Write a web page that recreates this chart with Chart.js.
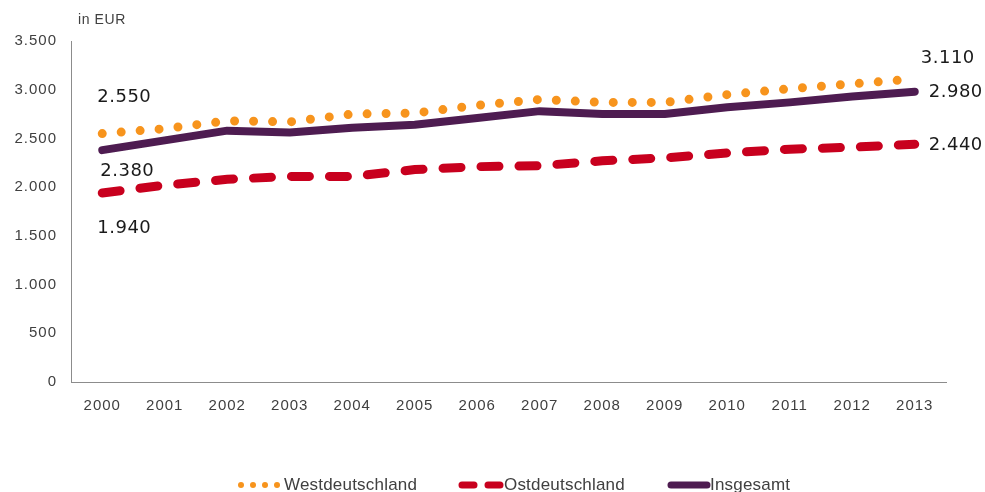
<!DOCTYPE html>
<html>
<head>
<meta charset="utf-8">
<script src="https://cdn.jsdelivr.net/npm/chart.js@4/dist/chart.umd.min.js"></script>
<style>
html,body{margin:0;padding:0;background:#fff;}
#wrap{width:985px;height:492px;}
</style>
</head>
<body>
<div id="wrap"><canvas id="c" width="985" height="492"></canvas></div>
<script>
const years = ['2000','2001','2002','2003','2004','2005','2006','2007','2008','2009','2010','2011','2012','2013'];
const westdeutschland = [2550,2600,2680,2670,2750,2760,2840,2900,2870,2870,2950,3010,3060,3110];
const ostdeutschland  = [1940,2020,2080,2110,2110,2180,2210,2220,2270,2300,2350,2390,2410,2440];
const insgesamt       = [2380,2480,2580,2560,2610,2640,2710,2780,2750,2750,2820,2870,2930,2980];
const yTickValues = [0,500,1000,1500,2000,2500,3000,3500];
const yTickLabels = ['0','500','1.000','1.500','2.000','2.500','3.000','3.500'];
const seriesNames = ['Westdeutschland','Ostdeutschland','Insgesamt'];
const unitLabel = 'in EUR';

function fmt(v){ return String(v).replace(/\B(?=(\d{3})+(?!\d))/g,'.'); }

// label offsets (style only): [first, last] -> {dx, dy}
const labelOffsets = [
  [{dx:-5,dy:-36},{dx:6,dy:-21}],
  [{dx:-5,dy:35},{dx:14,dy:1}],
  [{dx:-2,dy:21},{dx:14,dy:1}]
];

const endLabels = {
  id:'endLabels',
  afterDatasetsDraw(chart){
    const ctx = chart.ctx;
    const xs = chart.scales.x, ys = chart.scales.y;
    ctx.save();
    ctx.font = '18px "DejaVu Sans"';
    ctx.letterSpacing = '0.5px';
    ctx.fillStyle = '#1a1a1a';
    ctx.textAlign = 'left';
    ctx.textBaseline = 'middle';
    chart.data.datasets.forEach((ds,i)=>{
      const idxs = [0, ds.data.length-1];
      idxs.forEach((idx,k)=>{
        const px = xs.getPixelForValue(idx);
        const py = ys.getPixelForValue(ds.data[idx]);
        const o = labelOffsets[i][k];
        ctx.fillText(fmt(ds.data[idx]), px+o.dx, py+o.dy);
      });
    });
    ctx.restore();
  }
};

const extras = {
  id:'extras',
  beforeDraw(chart){
    chart.ctx.letterSpacing = '1px';
  },
  afterDraw(chart){
    const ctx = chart.ctx;
    ctx.save();
    ctx.letterSpacing = '0.6px';
    ctx.font = '14px "Liberation Sans"';
    ctx.fillStyle = '#404040';
    ctx.textBaseline = 'middle';
    ctx.textAlign = 'left';
    ctx.fillText(unitLabel, 78, 20);
    // legend
    const ly = 485;
    ctx.font = '17px "Liberation Sans"';
    ctx.letterSpacing = '0.2px';
    const ds = chart.data.datasets;
    // West dots
    ctx.fillStyle = ds[0].borderColor;
    [241,253,265,277].forEach(x=>{ctx.beginPath();ctx.arc(x,ly,3,0,Math.PI*2);ctx.fill();});
    ctx.fillStyle = '#404040';
    ctx.fillText(ds[0].label, 284, ly);
    // Ost dashes
    ctx.strokeStyle = ds[1].borderColor;
    ctx.lineWidth = 7; ctx.lineCap='round';
    ctx.beginPath(); ctx.moveTo(462,ly); ctx.lineTo(474,ly); ctx.moveTo(488,ly); ctx.lineTo(500,ly); ctx.stroke();
    ctx.fillText(ds[1].label, 504, ly);
    // Insgesamt line
    ctx.strokeStyle = ds[2].borderColor;
    ctx.beginPath(); ctx.moveTo(671,ly); ctx.lineTo(707,ly); ctx.stroke();
    ctx.fillStyle = '#404040';
    ctx.fillText(ds[2].label, 710, ly);
    ctx.restore();
  }
};

new Chart(document.getElementById('c'), {
  type:'line',
  data:{
    labels: years,
    datasets:[
      {label:seriesNames[0], data:westdeutschland, borderColor:'#F7941D', borderWidth:9, borderDash:[0,19], borderCapStyle:'round', pointRadius:0, tension:0, fill:false},
      {label:seriesNames[1], data:ostdeutschland, borderColor:'#C8001E', borderWidth:9, borderDash:[18,20], borderCapStyle:'round', pointRadius:0, tension:0, fill:false},
      {label:seriesNames[2], data:insgesamt, borderColor:'#4E1C51', borderWidth:8, borderCapStyle:'round', borderJoinStyle:'round', pointRadius:0, tension:0, fill:false}
    ]
  },
  options:{
    responsive:false,
    animation:false,
    devicePixelRatio:1,
    layout:{padding:{top:41,right:39,bottom:0,left:0}},
    plugins:{legend:{display:false}, tooltip:{enabled:false}, title:{display:false}},
    scales:{
      x:{
        offset:true,
        grid:{display:false, drawTicks:false},
        border:{display:true,color:'#8c8c8c',width:1},
        ticks:{color:'#404040', font:{family:'Liberation Sans', size:15}, padding:15, maxRotation:0, autoSkip:false},
        afterFit(s){ s.height = 110; }
      },
      y:{
        min:0, max:3500,
        grid:{display:false, drawTicks:false},
        border:{display:true,color:'#8c8c8c',width:1},
        afterBuildTicks(s){ s.ticks = yTickValues.map(v=>({value:v})); },
        ticks:{color:'#404040', font:{family:'Liberation Sans', size:15}, padding:14,
          callback:(v,i)=>yTickLabels[yTickValues.indexOf(v)]},
        afterFit(s){ s.width = 71; }
      }
    }
  },
  plugins:[endLabels, extras]
});
</script>
</body>
</html>
